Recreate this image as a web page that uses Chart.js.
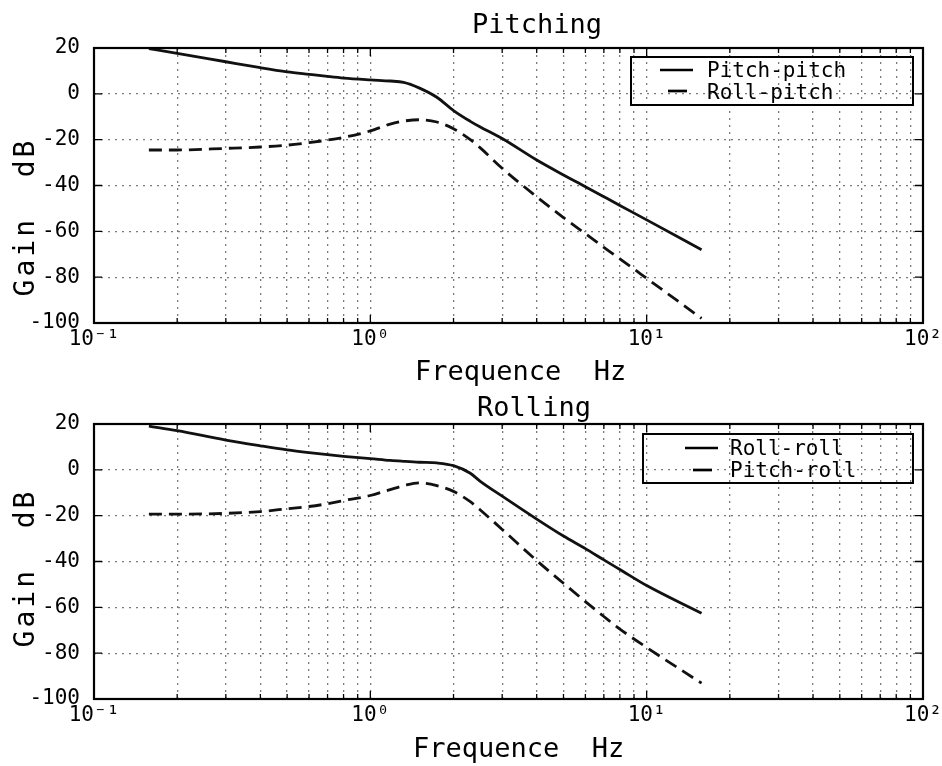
<!DOCTYPE html>
<html><head><meta charset="utf-8">
<script src="https://cdn.jsdelivr.net/npm/chart.js@4/dist/chart.umd.min.js"></script>
<style>
html,body{margin:0;padding:0;background:#fff;}
#wrap{position:relative;width:942px;height:766px;overflow:hidden;background:#fff;}
canvas{position:absolute;left:0;}
#c1{top:0;}
#c2{top:383px;}
</style></head><body>
<div id="wrap"><canvas id="c1" width="942" height="392"></canvas><canvas id="c2" width="942" height="383"></canvas></div>
<script>
// ---------- data ----------
const freq       = [0.158, 0.2, 0.3, 0.4, 0.5, 0.6, 0.7, 0.8, 1.0, 1.18, 1.32, 1.5, 1.74, 2.0, 2.3, 2.5, 3.0, 4.0, 5.0, 6.0, 7.0, 8.0, 10, 15.8];
const pitchPitch = [19.7, 17.7, 14.0, 11.4, 9.6, 8.5, 7.6, 6.9, 6.1, 5.6, 5.0, 2.6, -1.5, -7.3, -12.0, -14.5, -19.5, -28.9, -35.4, -40.5, -44.9, -48.7, -55.0, -68.0];
const rollPitch  = [-24.5, -24.5, -23.8, -23.2, -22.4, -21.3, -20.2, -19.0, -16.2, -13.2, -11.9, -11.3, -12.3, -15.2, -20.0, -23.6, -32.5, -44.9, -54.0, -61.0, -67.0, -72.0, -80.5, -98.0];
const rollRoll   = [19.1, 17.1, 13.0, 10.5, 8.7, 7.5, 6.6, 5.9, 4.9, 4.1, 3.7, 3.3, 3.0, 1.8, -1.5, -5.0, -11.5, -21.5, -28.9, -34.4, -39.3, -43.5, -50.5, -62.6];
const pitchRoll  = [-19.3, -19.3, -19.0, -18.2, -17.0, -16.0, -14.8, -13.4, -11.2, -8.6, -6.9, -5.7, -6.9, -9.4, -13.9, -17.5, -26.0, -39.6, -49.5, -57.5, -64.0, -69.5, -77.5, -93.1];

const panelTitles  = ['Pitching', 'Rolling'];
const legendLabels = [['Pitch-pitch', 'Roll-pitch'], ['Roll-roll', 'Pitch-roll']];
const xAxisTitle   = 'Frequence  Hz';
const yAxisTitle   = 'Gain  dB';
const xTickValues  = [0.1, 1, 10, 100];
const xTickLabels  = ['10\u207B\u00B9', '10\u2070', '10\u00B9', '10\u00B2'];
const yTickValues  = [20, 0, -20, -40, -60, -80, -100];
const yTickLabels  = ['20', '0', '-20', '-40', '-60', '-80', '-100'];

// ---------- helpers ----------
const FONT = "'DejaVu Sans Mono','Liberation Mono',monospace";
const gridTicks = [];
[-1, 0, 1].forEach(e => { for (let k = 1; k <= 9; k++) gridTicks.push(parseFloat((k * Math.pow(10, e)).toPrecision(3))); });
gridTicks.push(100);

function pts(vals) { return freq.map((f, i) => ({x: f, y: vals[i]})); }

function makeScales(H, plotBottom) {
  const grid = {color: '#7a7a7a', lineWidth: 1.3, drawTicks: false};
  const border = {display: false, dash: [2, 5]};
  return {
    x: {
      type: 'logarithmic', min: 0.1, max: 100,
      afterBuildTicks(s) { s.ticks = gridTicks.map(v => ({value: v, major: xTickValues.includes(v)})); },
      afterFit(s) { s.height = H - plotBottom; s.paddingLeft = 0; s.paddingRight = 0; },
      ticks: {
        autoSkip: false, maxRotation: 0, minRotation: 0, padding: 4, color: '#000',
        font: {family: FONT, size: 21},
        callback(v) { const i = xTickValues.findIndex(t => Math.abs(t - v) < 1e-9 * t); return i >= 0 ? xTickLabels[i] : ''; }
      },
      grid, border
    },
    y: {
      type: 'linear', min: -100, max: 20,
      afterBuildTicks(s) { s.ticks = yTickValues.map(v => ({value: v})); },
      afterFit(s) { s.width = 94; },
      ticks: {
        padding: 14, color: '#000', font: {family: FONT, size: 21},
        callback(v) { const i = yTickValues.indexOf(v); return i >= 0 ? yTickLabels[i] : ''; }
      },
      grid, border
    }
  };
}

function panelPlugin(cfg) {
  return {
    id: 'panel',
    afterDraw(chart) {
      const ctx = chart.ctx, a = chart.chartArea;
      const xs = chart.scales.x, ys = chart.scales.y;
      ctx.save();
      ctx.strokeStyle = '#000';
      ctx.lineWidth = 1.3;
      ctx.beginPath();
      xs.ticks.forEach(t => {
        const px = xs.getPixelForValue(t.value);
        const len = t.major ? 8 : 5;
        ctx.moveTo(px, a.bottom); ctx.lineTo(px, a.bottom - len);
        ctx.moveTo(px, a.top); ctx.lineTo(px, a.top + len);
      });
      ys.ticks.forEach(t => {
        const py = ys.getPixelForValue(t.value);
        ctx.moveTo(a.left, py); ctx.lineTo(a.left + 8, py);
        ctx.moveTo(a.right, py); ctx.lineTo(a.right - 8, py);
      });
      ctx.stroke();
      ctx.lineWidth = 2.2;
      ctx.strokeRect(a.left, a.top, a.right - a.left, a.bottom - a.top);

      ctx.fillStyle = '#000';
      ctx.textBaseline = 'alphabetic';
      ctx.font = '27px ' + FONT;
      ctx.textAlign = 'center';
      ctx.fillText(cfg.title, cfg.titleX, cfg.titleY);
      ctx.textAlign = 'left';
      ctx.fillText(xAxisTitle, cfg.xtX, cfg.xtY);

      ctx.save();
      ctx.translate(cfg.ytX, cfg.ytY);
      ctx.rotate(-Math.PI / 2);
      ctx.font = '28px ' + FONT;
      ctx.letterSpacing = '3px';
      ctx.textAlign = 'center';
      ctx.fillText(yAxisTitle, 0, 0);
      ctx.restore();

      const L = cfg.legend;
      ctx.lineWidth = 2;
      ctx.strokeRect(L.x, L.y, L.w, L.h);
      ctx.font = '21px ' + FONT;
      ctx.textAlign = 'left';
      chart.data.datasets.forEach((ds, i) => {
        const ly = L.lineY[i];
        ctx.save();
        ctx.lineWidth = 2.7;
        ctx.beginPath();
        if (ds.borderDash && ds.borderDash.length) { ctx.moveTo(L.lx0 + 8, ly); ctx.lineTo(L.lx1 - 6, ly); }
        else { ctx.moveTo(L.lx0, ly); ctx.lineTo(L.lx1, ly); }
        ctx.stroke();
        ctx.restore();
        ctx.fillText(ds.label, L.tx, L.textY[i]);
      });
      ctx.restore();
    }
  };
}

function makeChart(id, H, plotTop, plotBottom, solid, dashed, labels, cfg) {
  return new Chart(document.getElementById(id), {
    type: 'line',
    data: {
      datasets: [
        {label: labels[0], data: pts(solid), borderColor: '#111', borderWidth: 2.8, pointRadius: 0, fill: false, cubicInterpolationMode: 'monotone'},
        {label: labels[1], data: pts(dashed), borderColor: '#111', borderWidth: 2.8, borderDash: [13, 7], pointRadius: 0, fill: false, cubicInterpolationMode: 'monotone'}
      ]
    },
    options: {
      responsive: false, animation: false, devicePixelRatio: 1, events: [],
      layout: {padding: {top: plotTop, right: 19, left: 0, bottom: 0}},
      plugins: {legend: {display: false}, title: {display: false}, tooltip: {enabled: false}},
      scales: makeScales(H, plotBottom)
    },
    plugins: [panelPlugin(cfg)]
  });
}

makeChart('c1', 392, 48, 323, pitchPitch, rollPitch, legendLabels[0], {
  title: panelTitles[0], titleX: 537, titleY: 33,
  xtX: 415, xtY: 380, ytX: 34, ytY: 217,
  legend: {x: 631, y: 57, w: 282, h: 48, lx0: 660, lx1: 693, lineY: [70, 91], tx: 707, textY: [77, 99]}
});
makeChart('c2', 383, 41, 316, rollRoll, pitchRoll, legendLabels[1], {
  title: panelTitles[1], titleX: 534, titleY: 33,
  xtX: 413, xtY: 374, ytX: 34, ytY: 185,
  legend: {x: 643, y: 51, w: 270, h: 49, lx0: 685, lx1: 718, lineY: [65, 87], tx: 730, textY: [72, 94]}
});
</script>
</body></html>
